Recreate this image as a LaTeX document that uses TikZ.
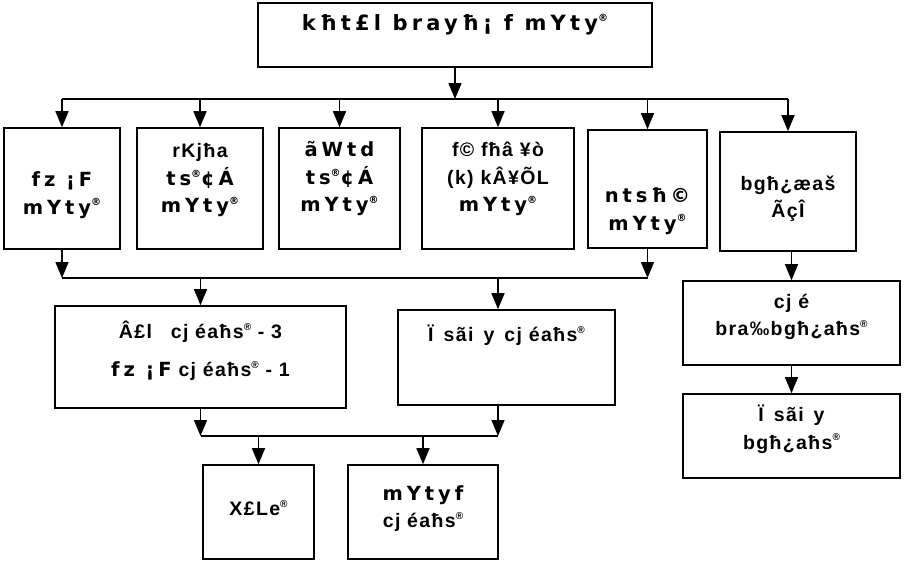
\documentclass[tikz,border=0pt]{standalone}
\usepackage{fontspec}
\setmainfont[LetterSpace=7]{Liberation Sans}
\newfontfamily\widefont[LetterSpace=20]{DejaVu Sans}
\usetikzlibrary{arrows.meta}
\newcommand{\rg}{\raisebox{.42em}{\fontsize{10}{10}\selectfont ®}}

\begin{document}
\begin{tikzpicture}[x=1pt,y=-1pt,
  box/.style={draw,line width=1.6pt,inner sep=0pt},
  txt/.style={inner sep=0pt,align=center,font=\fontsize{19.5}{27.5}\selectfont\bfseries},
  arr/.style={line width=1.5pt,-{Triangle[width=13pt,length=16pt]}},
  ln/.style={line width=1.5pt}]
  \useasboundingbox (0,0) rectangle (906,563);

  % top
  \node[box,minimum width=394,minimum height=64] (top) at (455,35) {};
  \node[txt,font=\fontsize{21}{24}\selectfont\widefont\bfseries] (topt) at ([yshift=10]top.center) {kħt£l brayħ¡ f mYty\rg};

  % first row
  \node[box,minimum width=116,minimum height=121] (b1) at (62,188.5) {};
  \node[txt] (b1t) at ([yshift=-6.5]b1.center) {{\widefont fz ¡F}\\{\widefont mYty\rg}};
  \node[box,minimum width=126,minimum height=121] (b2) at (200,188.5) {};
  \node[txt] (b2t) at ([yshift=8]b2.center) {rKjħa\\{\widefont ts\rg¢Á}\\{\widefont mYty\rg}};
  \node[box,minimum width=121,minimum height=121] (b3) at (339.5,188.5) {};
  \node[txt] (b3t) at ([yshift=9.5]b3.center) {{\widefont ãWtd}\\{\widefont ts\rg¢Á}\\{\widefont mYty\rg}};
  \node[box,minimum width=152,minimum height=121] (b4) at (498,188.5) {};
  \node[txt] (b4t) at ([yshift=9.5]b4.center) {f© fħâ ¥ò\\(k) kÂ¥ÕL\\{\widefont mYty\rg}};
  \node[box,minimum width=119,minimum height=118] (b5) at (647.5,189) {};
  \node[txt] (b5t) at ([yshift=-22]b5.center) {{\widefont ntsħ©}\\{\widefont mYty\rg}};
  \node[box,minimum width=136,minimum height=119] (b6) at (788,191.5) {};
  \node[txt] (b6t) at ([yshift=-7]b6.center) {bgħ¿æaš\\ÃçÎ};

  % middle row
  \node[box,minimum width=291,minimum height=102] (m1) at (200.5,357) {};
  \node[txt] (m1t) at ([yshift=6]m1.center) {Â£l\hspace{12pt} cj éaħs\rg{} - 3\\[10pt]{\widefont fz ¡F} cj éaħs\rg{} - 1};
  \node[box,minimum width=217,minimum height=95] (m2) at (506.5,357.5) {};
  \node[txt] (m2t) at ([yshift=22.5]m2.center) {Ï\, sãi\, y\, cj éaħs\rg};

  % right column
  \node[box,minimum width=217,minimum height=84] (r1) at (791.5,323) {};
  \node[txt] (r1t) at ([yshift=6]r1.center) {cj é\\bra‰bgħ¿aħs\rg};
  \node[box,minimum width=217,minimum height=84] (r2) at (791.5,436) {};
  \node[txt] (r2t) at ([yshift=7]r2.center) {Ï\, sãi\, y\\bgħ¿aħs\rg};

  % bottom row
  \node[box,minimum width=111,minimum height=94] (n1) at (258.5,512) {};
  \node[txt] (n1t) at ([yshift=4]n1.center) {X£Le\rg};
  \node[box,minimum width=150,minimum height=94] (n2) at (423,512) {};
  \node[txt] (n2t) at ([yshift=3.5]n2.center) {{\widefont mYtyf}\\cj éaħs\rg};

  \coordinate (bus1) at (455,99);
  \coordinate (bus2) at (455,278);
  \coordinate (bus3) at (455,436);

  % top to first row
  \draw[arr] (top) -- (bus1);
  \draw[ln] (b1 |- bus1) -- (b6 |- bus1);
  \foreach \n in {b1,b2,b3,b4,b5,b6}
    \draw[arr] (\n |- bus1) -- (\n);

  % first row to middle row
  \draw[arr] (b1) -- (b1 |- bus2);
  \draw[arr] (b5) -- (b5 |- bus2);
  \draw[ln] (b1 |- bus2) -- (b5 |- bus2);
  \draw[arr] (m1 |- bus2) -- (m1);
  \draw[arr] (b4 |- bus2) -- (b4 |- m2.north);

  % middle row to bottom row
  \draw[arr] (m1) -- (m1 |- bus3);
  \draw[arr] (b4 |- m2.south) -- (b4 |- bus3);
  \draw[ln] (m1 |- bus3) -- (b4 |- bus3);
  \draw[arr] (n1 |- bus3) -- (n1);
  \draw[arr] (n2 |- bus3) -- (n2);

  % right column
  \draw[arr] (r1 |- b6.south) -- (r1);
  \draw[arr] (r1) -- (r2);
\end{tikzpicture}
\end{document}
